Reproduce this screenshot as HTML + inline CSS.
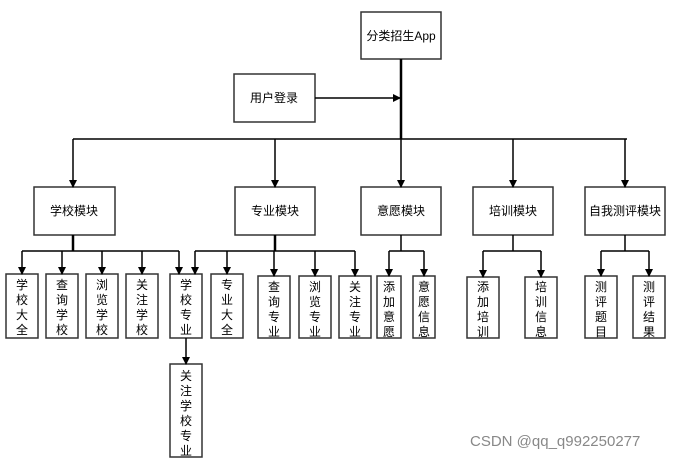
<!DOCTYPE html>
<html><head><meta charset="utf-8"><style>
html,body{margin:0;padding:0;background:#fff;}
svg{display:block;}
text{font-family:"Liberation Sans","Noto Sans CJK SC",sans-serif;font-size:12px;fill:#000;}
</style></head><body>
<svg width="693" height="460" viewBox="0 0 693 460">
<defs><marker id="a" markerWidth="8" markerHeight="8" refX="7" refY="4" orient="auto" markerUnits="userSpaceOnUse"><path d="M0,0 L8,4 L0,8 z" fill="#000"/></marker></defs>
<g fill="#fff" stroke="#333" stroke-width="1.5">
<rect x="361" y="12" width="80" height="47"/>
<rect x="234" y="74" width="81" height="48"/>
<rect x="34" y="187" width="81" height="48"/>
<rect x="235" y="187" width="80" height="48"/>
<rect x="361" y="187" width="80" height="48"/>
<rect x="473" y="187" width="80" height="48"/>
<rect x="585" y="187" width="80" height="48"/>
<rect x="6" y="274" width="32" height="64"/>
<rect x="46" y="274" width="32" height="64"/>
<rect x="86" y="274" width="32" height="64"/>
<rect x="126" y="274" width="32" height="64"/>
<rect x="170" y="274" width="32" height="64"/>
<rect x="211" y="274" width="32" height="64"/>
<rect x="258" y="276" width="32" height="62"/>
<rect x="299" y="276" width="32" height="62"/>
<rect x="339" y="276" width="32" height="62"/>
<rect x="377" y="276" width="24" height="62"/>
<rect x="413" y="276" width="22" height="62"/>
<rect x="467" y="277" width="32" height="61"/>
<rect x="525" y="277" width="32" height="61"/>
<rect x="585" y="276" width="32" height="62"/>
<rect x="633" y="276" width="32" height="62"/>
<rect x="170" y="364" width="32" height="93"/>
</g>
<g stroke="#000" stroke-width="1.5" fill="none">
<line x1="401" y1="59" x2="401" y2="139" stroke-width="2.5"/>
<line x1="315" y1="98" x2="400" y2="98" marker-end="url(#a)"/>
<polyline points="73,139 627,139"/>
<line x1="73" y1="139" x2="73" y2="187" marker-end="url(#a)"/>
<line x1="275" y1="139" x2="275" y2="187" marker-end="url(#a)"/>
<line x1="401" y1="139" x2="401" y2="187" marker-end="url(#a)"/>
<line x1="513" y1="139" x2="513" y2="187" marker-end="url(#a)"/>
<line x1="625" y1="139" x2="625" y2="187" marker-end="url(#a)"/>
<line x1="73" y1="235" x2="73" y2="251" stroke-width="2.5"/>
<polyline points="22,251 179,251"/>
<line x1="22" y1="251" x2="22" y2="274" marker-end="url(#a)"/>
<line x1="62" y1="251" x2="62" y2="274" marker-end="url(#a)"/>
<line x1="102" y1="251" x2="102" y2="274" marker-end="url(#a)"/>
<line x1="142" y1="251" x2="142" y2="274" marker-end="url(#a)"/>
<line x1="179" y1="251" x2="179" y2="274" marker-end="url(#a)"/>
<line x1="275" y1="235" x2="275" y2="251" stroke-width="2.5"/>
<polyline points="195,251 355,251"/>
<line x1="195" y1="251" x2="195" y2="274" marker-end="url(#a)"/>
<line x1="227" y1="251" x2="227" y2="274" marker-end="url(#a)"/>
<line x1="274" y1="251" x2="274" y2="276" marker-end="url(#a)"/>
<line x1="315" y1="251" x2="315" y2="276" marker-end="url(#a)"/>
<line x1="355" y1="251" x2="355" y2="276" marker-end="url(#a)"/>
<line x1="401" y1="235" x2="401" y2="251"/>
<polyline points="389,251 424,251"/>
<line x1="389" y1="251" x2="389" y2="276" marker-end="url(#a)"/>
<line x1="424" y1="251" x2="424" y2="276" marker-end="url(#a)"/>
<line x1="513" y1="235" x2="513" y2="251"/>
<polyline points="483,251 541,251"/>
<line x1="483" y1="251" x2="483" y2="277" marker-end="url(#a)"/>
<line x1="541" y1="251" x2="541" y2="277" marker-end="url(#a)"/>
<line x1="625" y1="235" x2="625" y2="251"/>
<polyline points="601,251 649,251"/>
<line x1="601" y1="251" x2="601" y2="276" marker-end="url(#a)"/>
<line x1="649" y1="251" x2="649" y2="276" marker-end="url(#a)"/>
<line x1="186" y1="338" x2="186" y2="364" marker-end="url(#a)"/>
</g>
<g text-anchor="middle">
<text x="401" y="40">分类招生App</text>
<text x="274" y="102">用户登录</text>
<text x="74" y="215">学校模块</text>
<text x="275" y="215">专业模块</text>
<text x="401" y="215">意愿模块</text>
<text x="513" y="215">培训模块</text>
<text x="625" y="215">自我测评模块</text>
</g>
<g text-anchor="middle">
<text x="22" y="289"><tspan x="22">学</tspan><tspan x="22" dy="15">校</tspan><tspan x="22" dy="15">大</tspan><tspan x="22" dy="15">全</tspan></text>
<text x="62" y="289"><tspan x="62">查</tspan><tspan x="62" dy="15">询</tspan><tspan x="62" dy="15">学</tspan><tspan x="62" dy="15">校</tspan></text>
<text x="102" y="289"><tspan x="102">浏</tspan><tspan x="102" dy="15">览</tspan><tspan x="102" dy="15">学</tspan><tspan x="102" dy="15">校</tspan></text>
<text x="142" y="289"><tspan x="142">关</tspan><tspan x="142" dy="15">注</tspan><tspan x="142" dy="15">学</tspan><tspan x="142" dy="15">校</tspan></text>
<text x="186" y="289"><tspan x="186">学</tspan><tspan x="186" dy="15">校</tspan><tspan x="186" dy="15">专</tspan><tspan x="186" dy="15">业</tspan></text>
<text x="227" y="289"><tspan x="227">专</tspan><tspan x="227" dy="15">业</tspan><tspan x="227" dy="15">大</tspan><tspan x="227" dy="15">全</tspan></text>
<text x="274" y="291"><tspan x="274">查</tspan><tspan x="274" dy="15">询</tspan><tspan x="274" dy="15">专</tspan><tspan x="274" dy="15">业</tspan></text>
<text x="315" y="291"><tspan x="315">浏</tspan><tspan x="315" dy="15">览</tspan><tspan x="315" dy="15">专</tspan><tspan x="315" dy="15">业</tspan></text>
<text x="355" y="291"><tspan x="355">关</tspan><tspan x="355" dy="15">注</tspan><tspan x="355" dy="15">专</tspan><tspan x="355" dy="15">业</tspan></text>
<text x="389" y="291"><tspan x="389">添</tspan><tspan x="389" dy="15">加</tspan><tspan x="389" dy="15">意</tspan><tspan x="389" dy="15">愿</tspan></text>
<text x="424" y="291"><tspan x="424">意</tspan><tspan x="424" dy="15">愿</tspan><tspan x="424" dy="15">信</tspan><tspan x="424" dy="15">息</tspan></text>
<text x="483" y="291"><tspan x="483">添</tspan><tspan x="483" dy="15">加</tspan><tspan x="483" dy="15">培</tspan><tspan x="483" dy="15">训</tspan></text>
<text x="541" y="291"><tspan x="541">培</tspan><tspan x="541" dy="15">训</tspan><tspan x="541" dy="15">信</tspan><tspan x="541" dy="15">息</tspan></text>
<text x="601" y="291"><tspan x="601">测</tspan><tspan x="601" dy="15">评</tspan><tspan x="601" dy="15">题</tspan><tspan x="601" dy="15">目</tspan></text>
<text x="649" y="291"><tspan x="649">测</tspan><tspan x="649" dy="15">评</tspan><tspan x="649" dy="15">结</tspan><tspan x="649" dy="15">果</tspan></text>
<text x="186" y="380"><tspan x="186">关</tspan><tspan x="186" dy="15">注</tspan><tspan x="186" dy="15">学</tspan><tspan x="186" dy="15">校</tspan><tspan x="186" dy="15">专</tspan><tspan x="186" dy="15">业</tspan></text>
</g>
<text x="470" y="446" style="font-size:15px;fill:#888">CSDN @qq_q992250277</text>
</svg>
</body></html>
